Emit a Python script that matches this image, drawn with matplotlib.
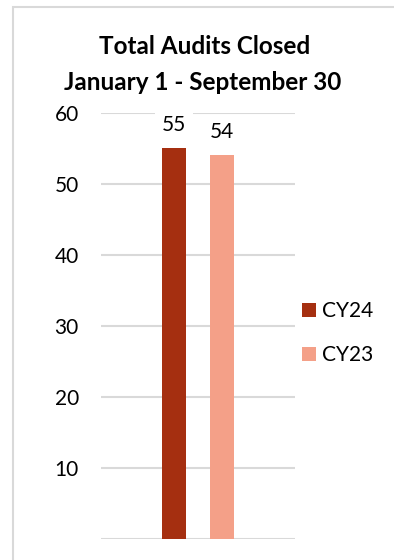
import matplotlib
matplotlib.use("Agg")
import matplotlib.pyplot as plt
from matplotlib.patches import Rectangle

# data
series = ["CY24", "CY23"]
values = [55, 54]
colors = ["#A52F10", "#F4A088"]
title_lines = ["Total Audits Closed", "January 1 - September 30"]
yticks = [10, 20, 30, 40, 50, 60]

plt.rcParams["font.family"] = ["Lato", "DejaVu Sans"]

W, H = 394, 560
fig = plt.figure(figsize=(W / 100, H / 100), dpi=100)

# plot area in pixel coords
x0, x1 = 101, 295
y_base, y_top = 538.7, 112.7
ax = fig.add_axes([x0 / W, 1 - y_base / H, (x1 - x0) / W, (y_base - y_top) / H])
px_per_unit = (y_base - y_top) / 60

w = 24 / (x1 - x0)
offsets = [-w, w]
bars = []
for s, v, c, off in zip(series, values, colors, offsets):
    b = ax.bar(off, v, width=w, color=c, label=s, zorder=3)
    bars.append(b)
    ax.text(off, v + 17 / px_per_unit, str(v), ha="center", va="baseline",
            fontsize=15, color="#000000", zorder=4,
            bbox=dict(facecolor="white", edgecolor="none", pad=5))

ax.set_xlim(-0.5, 0.5)
ax.set_ylim(0, 60)
ax.set_yticks([0] + yticks)
ax.set_yticklabels([""] + [str(t) for t in yticks], fontsize=15)
ax.set_xticks([])
ax.tick_params(axis="y", length=0, pad=16)
ax.yaxis.grid(True, color="#D9D9D9", linewidth=1.5, zorder=0)
ax.set_axisbelow(True)
for sp in ax.spines.values():
    sp.set_visible(False)

# title
fig.text(205 / W, 1 - 54 / H, title_lines[0], ha="center", va="baseline",
         fontsize=17.5, fontweight="bold")
fig.text(203 / W, 1 - 90 / H, title_lines[1], ha="center", va="baseline",
         fontsize=17.5, fontweight="bold")

# legend
leg = fig.legend(handles=[b[0] for b in bars], labels=series,
                 loc="upper left", bbox_to_anchor=(302 / W, 1 - 301 / H),
                 frameon=False, fontsize=15, handlelength=0.67, handleheight=0.67,
                 handletextpad=0.3, labelspacing=1.17, borderpad=0, borderaxespad=0)

# outer frame (only top/left edges visible in the crop)
fig.patches.append(Rectangle((12.7 / W, -0.1), 1.0, 1 - 7.3 / H + 0.1,
                             transform=fig.transFigure, fill=False,
                             edgecolor="#D9D9D9", linewidth=1.5))

fig.savefig("out.png", dpi=100)
